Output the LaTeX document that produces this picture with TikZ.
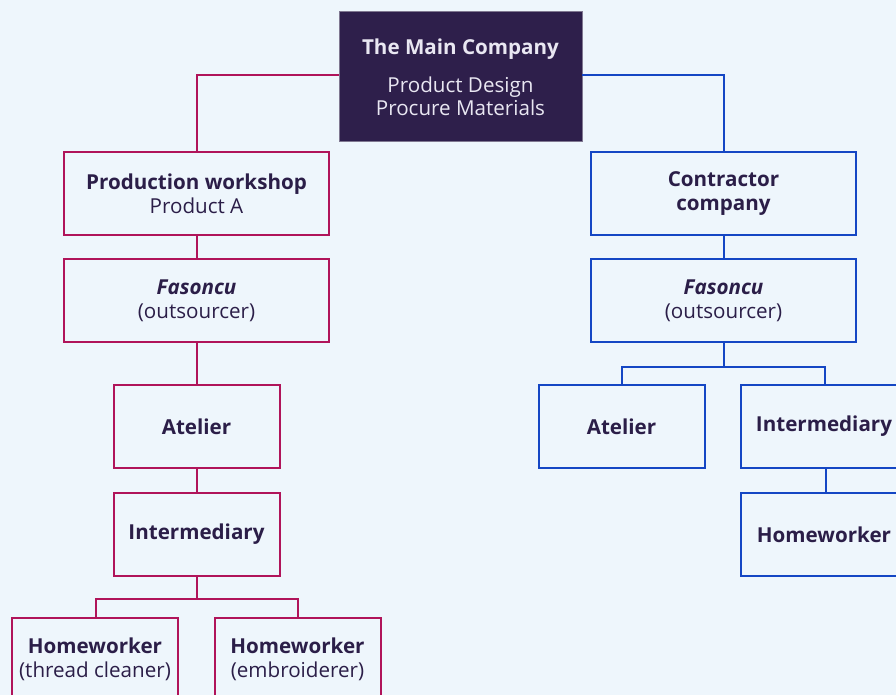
\documentclass[tikz,border=0pt]{standalone}
\usepackage{fontspec}
\setmainfont{Open Sans}
\usepackage{xcolor}
\usetikzlibrary{positioning}

\definecolor{bgblue}{HTML}{EEF6FC}
\definecolor{inkdark}{HTML}{2B1E48}
\definecolor{topfill}{HTML}{2E1F4B}
\definecolor{toptext}{HTML}{E9E7F2}
\definecolor{crimson}{HTML}{B0145A}
\definecolor{royal}{HTML}{1446C4}

\begin{document}
\begin{tikzpicture}[
    x=1pt, y=-1pt,
    font=\fontsize{20.6}{24}\selectfont,
    box/.style={rectangle, draw, line width=2pt, fill=bgblue, text=inkdark, align=center, inner sep=0pt, minimum height=83pt},
    wide/.style={box, minimum width=265pt},
    narrow/.style={box, minimum width=166pt},
    leftbranch/.style={draw=crimson},
    rightbranch/.style={draw=royal},
    link/.style={line width=2pt}
]
    \fill[bgblue] (0,0) rectangle (896,695);
    \useasboundingbox (0,0) rectangle (896,695);

    % top
    \node [rectangle, draw=inkdark!60, fill=topfill, text=toptext, align=center, inner sep=0pt,
           minimum width=243pt, minimum height=130pt] (main) at (460.5,76) {};
    \node [text=toptext, align=center] (mainlabel) at ([yshift=-1.5pt]main.center)
        {\textbf{The Main Company}\\[14pt]Product Design\\[-1pt]Procure Materials};

    % left branch
    \node [wide, leftbranch] (workshop) at (196.5,193.5) {\textbf{Production workshop}\\Product A};
    \node [wide, leftbranch] (fasonL) at (196.5,300.5) {\textbf{\itshape Fasoncu}\\(outsourcer)};
    \node [narrow, leftbranch] (atelierL) at (196.5,426.5) {\textbf{Atelier}};
    \node [narrow, leftbranch] (interL) at (196.5,534.5) {\textbf{Intermediary}};
    \node [narrow, leftbranch] (homeA) at (95,659.5) {\textbf{Homeworker}\\(thread cleaner)};
    \node [narrow, leftbranch] (homeB) at (297.5,659.5) {\textbf{Homeworker}\\(embroiderer)};

    % right branch
    \node [wide, rightbranch] (contractor) at (723.5,193.5) {\textbf{Contractor}\\\textbf{company}};
    \node [wide, rightbranch] (fasonR) at (723.5,300.5) {\textbf{\itshape Fasoncu}\\(outsourcer)};
    \node [narrow, rightbranch] (atelierR) at (621.5,426.5) {\textbf{Atelier}};
    \node [narrow, rightbranch] (interR) at (824,426.5) {\textbf{Intermediary}};
    \node [narrow, rightbranch] (homeR) at (824,534.5) {\textbf{Homeworker}};

    % connectors
    \begin{scope}[link, crimson]
        \draw ([yshift=1pt]main.west) -| (workshop.north);
        \draw (workshop) -- (fasonL);
        \draw (fasonL) -- (atelierL);
        \draw (atelierL) -- (interL);
        \draw (interL.south) -- ++(0,22) coordinate (busL);
        \draw (busL) -| ([xshift=1pt]homeA.north);
        \draw (busL) -| ([xshift=0.5pt]homeB.north);
    \end{scope}
    \begin{scope}[link, royal]
        \draw ([yshift=1pt]main.east) -| (contractor.north);
        \draw (contractor) -- (fasonR);
        \draw (fasonR.south) -- ++(0,24) coordinate (busR);
        \draw (busR) -| ([xshift=0.5pt]atelierR.north);
        \draw (busR) -| ([xshift=1pt]interR.north);
        \draw ([xshift=1.5pt]interR.south) -- ([xshift=1.5pt]homeR.north);
    \end{scope}
\end{tikzpicture}
\end{document}
